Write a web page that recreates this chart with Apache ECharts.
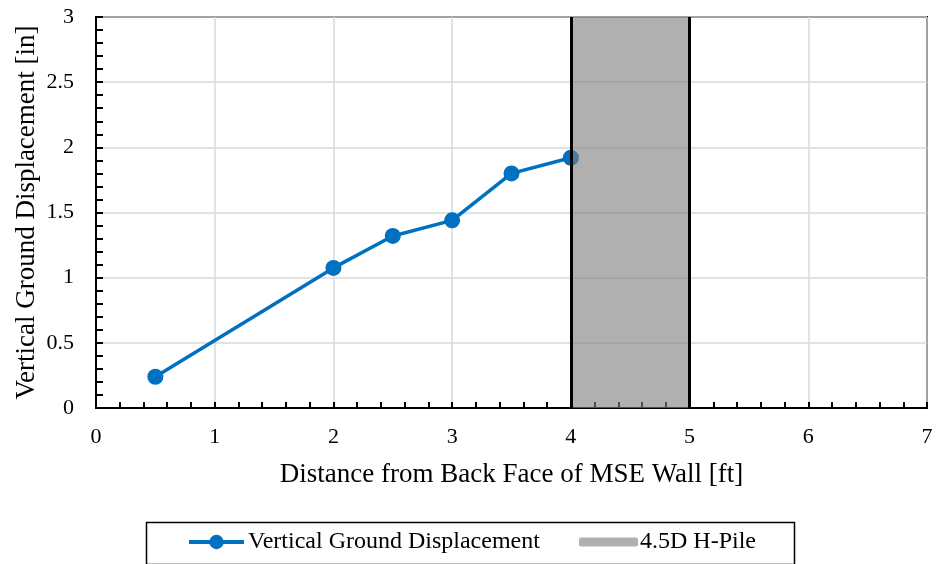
<!DOCTYPE html>
<html>
<head>
<meta charset="utf-8">
<script src="https://cdn.jsdelivr.net/npm/echarts@6/dist/echarts.min.js"></script>
<style>html,body{margin:0;padding:0;background:#fff}#c{width:937px;height:564px}</style>
</head>
<body>
<div id="c"></div>
<script>
const distance = [0.5, 2, 2.5, 3, 3.5, 4];
const displacement = [0.24, 1.075, 1.32, 1.44, 1.80, 1.92];
const pileRange = [4, 5];
const xTicks = [0, 1, 2, 3, 4, 5, 6, 7];
const yTicks = [0, 0.5, 1, 1.5, 2, 2.5, 3];
const seriesNames = ['Vertical Ground Displacement', '4.5D H-Pile'];

const FONT = '"Liberation Serif", "Times New Roman", serif';
const chart = echarts.init(document.getElementById('c'), null, {renderer: 'canvas'});
const lineData = distance.map((d, i) => [d, displacement[i]]);

chart.setOption({
  animation: false,
  textStyle: {fontFamily: FONT},
  grid: {left: 96, right: 10, top: 17, bottom: 156, show: true, borderColor: '#000', borderWidth: 2, backgroundColor: 'transparent'},
  xAxis: {
    type: 'value', min: xTicks[0], max: xTicks[xTicks.length - 1], interval: 1,
    name: 'Distance from Back Face of MSE Wall [ft]', nameLocation: 'middle', nameGap: 53,
    nameMoveOverlap: false,
    nameTextStyle: {fontFamily: FONT, fontSize: 27, color: '#000'},
    axisLine: {lineStyle: {color: '#000', width: 2}},
    axisTick: {inside: true, length: 6, lineStyle: {color: '#000', width: 2}},
    minorTick: {show: true, splitNumber: 5, length: 6, lineStyle: {color: '#000', width: 2}},
    axisLabel: {fontFamily: FONT, fontSize: 22, color: '#000', margin: 18},
    splitLine: {show: true, lineStyle: {color: '#d9d9d9', width: 1.5}}
  },
  yAxis: {
    type: 'value', min: yTicks[0], max: yTicks[yTicks.length - 1], interval: 0.5,
    name: 'Vertical Ground Displacement [in]', nameLocation: 'middle', nameGap: 56,
    nameMoveOverlap: false,
    nameTextStyle: {fontFamily: FONT, fontSize: 27, color: '#000'},
    axisLine: {lineStyle: {color: '#000', width: 2}},
    axisTick: {inside: true, length: 7, lineStyle: {color: '#000', width: 2}},
    minorTick: {show: true, splitNumber: 5, length: 7, lineStyle: {color: '#000', width: 2}},
    axisLabel: {fontFamily: FONT, fontSize: 22, color: '#000', margin: 22},
    splitLine: {show: true, lineStyle: {color: '#d9d9d9', width: 1.5}}
  },
  legend: [
    {
      data: [seriesNames[0]], left: 187, top: 530, padding: 0,
      itemWidth: 55, itemHeight: 18, itemGap: 0,
      lineStyle: {width: 4},
      textStyle: {fontFamily: FONT, fontSize: 24, color: '#000', padding: [0, 0, 0, -1]}
    },
    {
      data: [{name: seriesNames[1], icon: 'roundRect'}], left: 579, top: 530, padding: 0,
      itemWidth: 59, itemHeight: 9, itemGap: 0,
      textStyle: {fontFamily: FONT, fontSize: 24, color: '#000', padding: [0, 0, 0, -3]}
    }
  ],
  graphic: [{
    type: 'rect', left: 144, top: 520, shape: {width: 648, height: 42},
    style: {fill: 'none', stroke: '#000', lineWidth: 1.5}, silent: true
  }],
  series: [
    {
      name: seriesNames[0], type: 'line', data: lineData, z: 2,
      symbol: 'circle', symbolSize: 16,
      lineStyle: {color: '#0070c0', width: 3.5},
      itemStyle: {color: '#0070c0'}
    },
    {
      name: seriesNames[1], type: 'line', data: [], z: 5,
      itemStyle: {color: '#b0b0b0'},
      lineStyle: {color: '#b0b0b0', width: 8},
      markArea: {
        silent: true, z: 4,
        itemStyle: {color: 'rgba(128,128,128,0.62)'},
        data: [[{xAxis: pileRange[0], yAxis: yTicks[0]}, {xAxis: pileRange[1], yAxis: yTicks[yTicks.length - 1]}]]
      },
      markLine: {
        silent: true, z: 6, symbol: 'none', label: {show: false},
        lineStyle: {color: '#000', width: 3, type: 'solid'},
        data: [{xAxis: pileRange[0]}, {xAxis: pileRange[1]}]
      }
    }
  ]
});
</script>
</body>
</html>
